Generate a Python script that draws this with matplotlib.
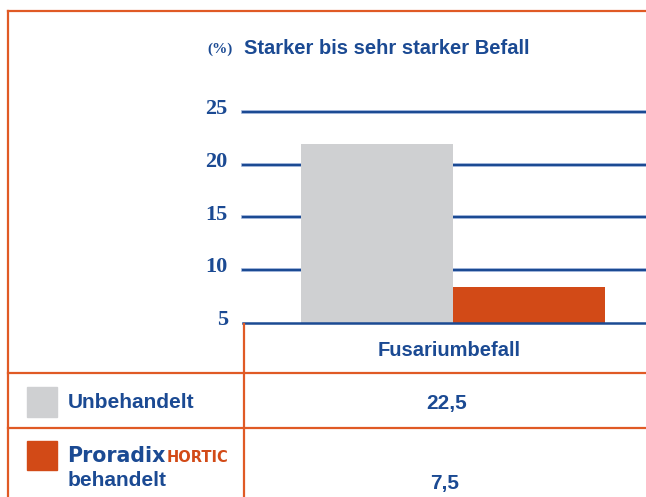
import matplotlib
matplotlib.use("Agg")
import matplotlib.pyplot as plt
from matplotlib.lines import Line2D
from matplotlib.patches import Rectangle
from matplotlib.transforms import ScaledTranslation

# values
groups = ["Unbehandelt", "Proradix HORTIC behandelt"]
bar_values = [22.0, 8.4]          # bar heights as drawn
table_values = ["22,5", "7,5"]    # numbers printed in the table
column_label = "Fusariumbefall"
yticks = [5, 10, 15, 20, 25]
title = "Starker bis sehr starker Befall"
unit = "(%)"

BLUE = "#1b4a93"
ORANGE = "#d24a17"
GRAY = "#cfd0d2"
FRAME = "#e05a25"

W, H = 646, 497
fig = plt.figure(figsize=(W / 100, H / 100), dpi=100)


def fx(px):
    return px / W


def fy(py):
    return 1 - py / H


sans = ["Liberation Sans Narrow", "Liberation Sans", "DejaVu Sans"]
serif = ["Liberation Serif", "DejaVu Serif"]

# plot area: y=5 at py 323, y=25 at py 112, x from px 243 to right edge
ax = fig.add_axes([fx(243), fy(323), 1 - fx(243), fy(112) - fy(323)])
bar_w = 152
x0 = -(376.5 - 243) / bar_w
x1 = (646 - 376.5) / bar_w
ax.bar(range(len(bar_values)), [v - 5 for v in bar_values], bottom=5, width=1.0,
       color=[GRAY, ORANGE], zorder=3)
ax.set_xlim(x0, x1)
ax.set_ylim(5, 25)
ax.set_yticks(yticks)
ax.set_yticklabels([str(t) for t in yticks], family=serif, weight="bold",
                   fontsize=16, color=BLUE, va="baseline")
ax.tick_params(axis="y", length=0, pad=11)
# labels sit a touch lower than their baseline would put them
shift = ScaledTranslation(0, -2 / 100, fig.dpi_scale_trans)
for lab in ax.get_yticklabels():
    lab.set_transform(lab.get_transform() + shift)
ax.set_xticks([])
for t in yticks[1:]:
    ax.axhline(t, color="#8fa8d4", lw=2.6, zorder=1, clip_on=False)
    ax.axhline(t, color=BLUE, lw=1.5, zorder=2, clip_on=False)
for s in ["top", "right", "left"]:
    ax.spines[s].set_visible(False)
ax.spines["bottom"].set_color(BLUE)
ax.spines["bottom"].set_linewidth(1.8)
ax.spines["bottom"].set_zorder(4)
ax.patch.set_alpha(0)

# title line
fig.text(fx(233), fy(49), unit, family=serif, weight="bold", fontsize=11,
         color=BLUE, ha="right", va="center")
fig.text(fx(244), fy(49), title, family=sans, weight="bold", fontsize=14.5,
         color=BLUE, ha="left", va="center")

# frame and table lines
lines = [
    ((8, 8), (11, H)),
    ((8, W), (11, 11)),
    ((244, 244), (324, H)),
    ((8, W), (373, 373)),
    ((8, W), (428, 428)),
]
for xs, ys in lines:
    fig.add_artist(Line2D([fx(x) for x in xs], [fy(y) for y in ys],
                          color=FRAME, lw=1.6))

# table content
fig.text(fx(449), fy(351), column_label, family=sans, weight="bold",
         fontsize=14.5, color=BLUE, ha="center", va="center")

fig.add_artist(Rectangle((fx(27), fy(417)), fx(30), fy(387) - fy(417),
                         color=GRAY, transform=fig.transFigure))
fig.add_artist(Rectangle((fx(27), fy(470)), fx(30), fy(441) - fy(470),
                         color=ORANGE, transform=fig.transFigure))

fig.text(fx(68), fy(403), groups[0], family=sans, weight="bold", fontsize=15,
         color=BLUE, ha="left", va="center")
fig.text(fx(67), fy(462), "Proradix", family="DejaVu Sans", weight="heavy",
         fontsize=14.8, color=BLUE, ha="left", va="baseline")
fig.text(fx(167), fy(462), "HORTIC", family="DejaVu Sans", weight="bold",
         fontsize=10.5, color=ORANGE, ha="left", va="baseline")
fig.text(fx(68), fy(481), "behandelt", family=sans, weight="bold", fontsize=15,
         color=BLUE, ha="left", va="center")

fig.text(fx(447), fy(403), table_values[0], family=sans, weight="bold",
         fontsize=15, color=BLUE, ha="center", va="center")
fig.text(fx(445), fy(483), table_values[1], family=sans, weight="bold",
         fontsize=15, color=BLUE, ha="center", va="center")

fig.savefig("out.png", dpi=100)
